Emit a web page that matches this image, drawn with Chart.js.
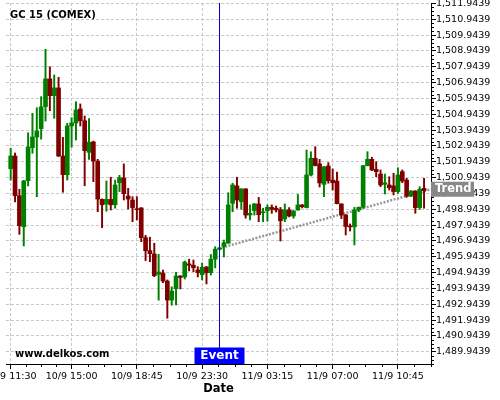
<!DOCTYPE html>
<html><head><meta charset="utf-8">
<script src="https://cdn.jsdelivr.net/npm/chart.js@4/dist/chart.umd.min.js"></script>
<style>html,body{margin:0;padding:0;background:#fff}</style>
</head><body>
<canvas id="c" width="500" height="400"></canvas>
<script>
// ---- data (15-minute candles, GC 15 COMEX) ----
const openVals = [1501.51,1502.31,1499.80,1497.84,1500.75,1502.84,1503.51,1504.04,1505.43,1507.18,
1506.12,1506.61,1502.31,1501.13,1504.21,1504.40,1505.28,1504.54,1502.54,1503.20,
1501.99,1499.57,1499.28,1499.57,1499.23,1500.62,1500.92,1499.78,1499.53,1498.98,
1499.03,1497.15,1496.33,1496.12,1494.84,1494.92,1494.41,1493.21,1493.93,1494.73,
1494.67,1495.49,1495.41,1495.11,1494.81,1495.30,1494.94,1495.79,1496.42,1496.61,
1496.81,1499.32,1500.42,1499.42,1500.23,1498.58,1498.86,1499.28,1498.73,1498.86,
1499.07,1499.01,1498.92,1498.33,1498.90,1498.52,1498.90,1499.22,1499.05,1501.11,
1502.17,1501.81,1500.52,1501.68,1500.79,1500.73,1499.28,1498.58,1497.89,1497.84,
1498.90,1499.07,1501.70,1502.10,1501.47,1501.17,1500.52,1500.48,1500.42,1500.06,
1501.32,1500.79,1499.78,1500.10,1499.05,1500.27];
const highVals = [1502.80,1502.50,1500.21,1500.78,1503.78,1505.01,1505.36,1506.06,1509.05,1507.95,
1507.43,1507.28,1503.49,1504.38,1504.73,1505.74,1505.60,1504.84,1504.67,1503.25,
1502.10,1499.60,1500.73,1500.97,1500.79,1501.09,1501.81,1500.27,1499.74,1499.74,
1499.05,1497.30,1497.18,1496.80,1496.10,1495.11,1494.48,1494.05,1494.96,1494.75,
1495.68,1495.79,1495.74,1495.32,1495.55,1495.33,1496.09,1496.58,1496.55,1497.00,
1499.99,1500.59,1500.97,1500.25,1500.25,1499.22,1499.32,1499.70,1499.01,1499.22,
1499.22,1499.15,1499.06,1499.28,1499.05,1498.86,1499.88,1499.24,1502.69,1502.58,
1502.90,1502.10,1501.65,1501.89,1501.49,1501.30,1499.30,1498.63,1498.02,1499.07,
1499.09,1501.72,1502.58,1502.23,1501.95,1501.43,1501.17,1501.00,1501.22,1501.57,
1501.43,1500.90,1500.12,1500.12,1500.37,1500.90];
const lowVals = [1500.79,1499.41,1497.36,1496.63,1500.42,1502.48,1499.74,1503.37,1504.52,1505.17,
1504.69,1502.27,1500.02,1500.79,1502.86,1503.32,1504.21,1500.43,1502.10,1500.69,
1498.79,1497.78,1498.82,1498.90,1499.01,1500.06,1499.53,1498.96,1498.16,1498.27,
1496.90,1495.70,1495.63,1494.69,1493.20,1494.31,1492.06,1492.88,1492.90,1493.91,
1494.54,1495.05,1495.00,1494.67,1494.48,1494.23,1494.79,1495.24,1496.38,1495.93,
1496.79,1498.79,1499.01,1498.94,1498.38,1498.27,1498.58,1498.16,1498.16,1498.19,
1498.69,1498.77,1496.94,1498.16,1498.46,1498.38,1498.88,1499.03,1499.03,1501.05,
1501.68,1500.35,1499.74,1500.59,1500.16,1499.28,1498.35,1497.32,1497.57,1496.69,
1498.79,1499.01,1501.68,1501.38,1501.00,1500.37,1499.91,1500.16,1499.85,1499.95,
1500.62,1499.70,1499.74,1498.69,1498.94,1499.01];
const closeVals = [1502.31,1499.80,1497.91,1500.73,1502.88,1503.51,1503.89,1505.41,1507.18,1506.12,
1506.61,1502.31,1501.13,1504.21,1504.40,1505.22,1504.54,1502.65,1503.18,1501.99,
1499.59,1499.23,1499.57,1499.23,1500.48,1500.94,1499.93,1499.59,1499.05,1498.92,
1497.15,1496.33,1496.14,1494.75,1494.98,1494.41,1493.21,1493.78,1494.73,1494.64,
1495.61,1495.41,1495.25,1494.94,1495.28,1494.94,1495.79,1496.42,1496.50,1496.83,
1499.22,1500.48,1499.53,1500.23,1498.58,1498.69,1499.28,1498.60,1498.79,1499.07,
1498.94,1498.90,1498.22,1498.90,1498.52,1498.84,1499.22,1499.11,1501.11,1502.17,
1501.71,1500.61,1501.63,1500.75,1500.62,1499.30,1498.58,1497.86,1497.83,1498.90,
1499.07,1501.70,1502.10,1501.43,1501.32,1500.48,1500.62,1500.31,1500.06,1501.11,
1500.73,1499.78,1500.10,1499.05,1500.21,1500.12];

// x tick positions (candle index) and labels
const xTickPos = [0, 14, 29, 44, 59, 74, 89];
const xTickLabels = ['10/9 11:30','10/9 15:00','10/9 18:45','10/9 23:30','11/9 03:15','11/9 07:00','11/9 10:45'];
// y tick values
const yTickValues = [1489.9439,1490.9439,1491.9439,1492.9439,1493.9439,1494.9439,1495.9439,1496.9439,
1497.9439,1498.9439,1499.9439,1500.9439,1501.9439,1502.9439,1503.9439,1504.9439,1505.9439,1506.9439,
1507.9439,1508.9439,1509.9439,1510.9439,1511.9439];
// event and trend
const eventIndex = 48;
const trendX = [48.5, 96.6];
const trendY = [1496.52, 1500.21];

// ---- build ----
const UP = '#008000', DOWN = '#800000';
const colors = openVals.map((o, i) => closeVals[i] >= o ? UP : DOWN);
const bodies = openVals.map((o, i) => ({x: i, y: [o, closeVals[i]]}));
const wicks = lowVals.map((l, i) => ({x: i, y: [l, highVals[i]]}));
const trendData = trendX.map((xv, i) => ({x: xv, y: trendY[i]}));
const FONT = '"DejaVu Sans", sans-serif';

const overlay = {
  id: 'overlay',
  afterDraw(chart) {
    const {ctx, chartArea: a, scales: {x, y}} = chart;
    ctx.save();
    // minor ticks
    ctx.strokeStyle = '#000'; ctx.lineWidth = 1;
    ctx.beginPath();
    for (let k = 0; k < xTickPos.length; k++) {
      const s = xTickPos[k];
      const e = k < xTickPos.length - 1 ? xTickPos[k + 1] : s + (s - xTickPos[k - 1]);
      for (let q = 1; q < 4; q++) {
        const v = s + (e - s) * q / 4;
        if (v > x.max) break;
        const px = Math.round(x.getPixelForValue(v)) + 0.5;
        ctx.moveTo(px, a.bottom); ctx.lineTo(px, a.bottom + 3);
      }
    }
    for (let k = 0; k < yTickValues.length; k++) {
      for (let q = 1; q < 4; q++) {
        const v = yTickValues[k] - q * 0.25;
        if (v < y.min) break;
        const py = Math.round(y.getPixelForValue(v)) + 0.5;
        ctx.moveTo(a.right, py); ctx.lineTo(a.right + 3, py);
      }
    }
    ctx.stroke();
    // event line & label
    const ex = Math.floor(x.getPixelForValue(eventIndex)) + 0.5;
    ctx.strokeStyle = '#0000cc'; ctx.lineWidth = 1;
    ctx.beginPath(); ctx.moveTo(ex, a.top); ctx.lineTo(ex, a.bottom - 16); ctx.stroke();
    ctx.fillStyle = '#0000ff';
    ctx.fillRect(ex - 25, a.bottom - 16.5, 50, 16.5);
    ctx.fillStyle = '#fff'; ctx.font = 'bold 12px ' + FONT;
    ctx.textAlign = 'center'; ctx.textBaseline = 'middle';
    ctx.fillText('Event', ex, a.bottom - 8);
    // trend label
    const ty = y.getPixelForValue(trendY[1]);
    ctx.fillStyle = '#888888';
    ctx.fillRect(a.right, ty - 7.5, 43, 15);
    ctx.fillStyle = '#fff'; ctx.font = 'bold 11.5px ' + FONT;
    ctx.textAlign = 'left';
    ctx.fillText('Trend', a.right + 4, ty);
    // title and watermark
    ctx.fillStyle = '#000';
    ctx.font = 'bold 10px ' + FONT;
    ctx.fillText('GC 15 (COMEX)', 10, 15.5);
    ctx.font = 'bold 10px ' + FONT;
    ctx.fillText('www.delkos.com', 15, 354);
    ctx.restore();
  }
};

new Chart(document.getElementById('c'), {
  type: 'bar',
  data: {
    datasets: [
      {type: 'bar', data: bodies, backgroundColor: colors, barThickness: 4, grouped: false, order: 1, borderWidth: 0},
      {type: 'bar', data: wicks, backgroundColor: colors, barThickness: 1.3, grouped: false, order: 2, borderWidth: 0},
      {type: 'line', data: trendData, borderColor: '#999999', borderWidth: 2.5, borderDash: [2, 1.5],
       pointRadius: 0, fill: false, order: 3}
    ]
  },
  options: {
    responsive: false,
    animation: false,
    devicePixelRatio: 1,
    layout: {padding: {left: 6, top: 3, right: 0, bottom: 0}},
    plugins: {legend: {display: false}, tooltip: {enabled: false}},
    scales: {
      x: {
        type: 'linear', position: 'bottom', min: -1.08, max: 96.6, bounds: 'data', offset: false,
        grid: {offset: false, color: '#c8c8c8', lineWidth: 1, tickColor: '#000', tickLength: 5, drawTicks: true},
        border: {display: true, color: '#000', width: 1, dash: [3, 2]},
        ticks: {autoSkip: false, maxRotation: 0, minRotation: 0, padding: 2, color: '#000',
          font: {family: FONT, size: 9.5},
          callback: (v, i) => xTickLabels[i]},
        title: {display: true, text: 'Date', color: '#000', font: {family: FONT, size: 11.5, weight: 'bold'},
          padding: {top: 0, bottom: 4}},
        afterBuildTicks: s => { s.ticks = xTickPos.map(v => ({value: v})); },
        afterFit: s => { s.height = 36; s.paddingLeft = 0; s.paddingRight = 0; }
      },
      y: {
        type: 'linear', position: 'right', min: 1489.17, max: 1511.976, bounds: 'data',
        grid: {color: '#c8c8c8', lineWidth: 1, tickColor: '#000', tickLength: 5},
        border: {display: true, color: '#000', width: 1, dash: [3, 2]},
        ticks: {autoSkip: false, padding: 0, color: '#000', font: {family: FONT, size: 9.5},
          callback: v => v.toLocaleString('en-US', {minimumFractionDigits: 4, maximumFractionDigits: 4})},
        afterBuildTicks: s => { s.ticks = yTickValues.map(v => ({value: v})); },
        afterFit: s => { s.width = 69; s.paddingTop = 0; s.paddingBottom = 0; }
      }
    }
  },
  plugins: [overlay]
});
</script>
</body></html>
